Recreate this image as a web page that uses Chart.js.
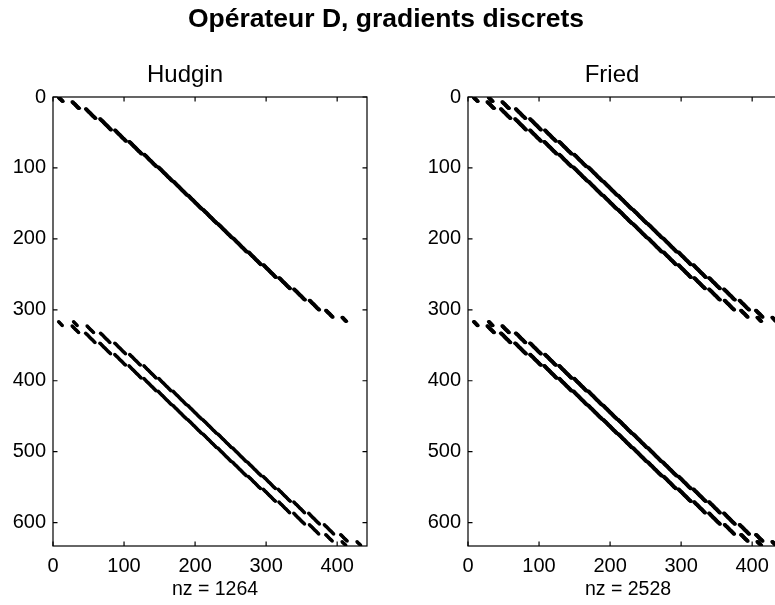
<!DOCTYPE html>
<html>
<head>
<meta charset="utf-8">
<script src="https://cdn.jsdelivr.net/npm/chart.js@4"></script>
<style>
  html, body { margin: 0; padding: 0; width: 775px; height: 605px; overflow: hidden; background: #fff; }
  canvas { position: absolute; left: 0; top: 0; }
</style>
</head>
<body>
<canvas id="hudgin" width="800" height="605"></canvas>
<canvas id="fried" width="800" height="605"></canvas>
<script>
// Valid subapertures per pupil row (circular pupil on a 20 x 20 lenslet grid)
const subapRowCounts = [6, 10, 14, 16, 16, 18, 18, 20, 20, 20, 20, 20, 20, 18, 18, 16, 16, 14, 10, 6];
// Phase points per side of the square phase grid (21 x 21 = 441 unknowns)
const gridSize = 21;
// Axis limits of the spy plots (matrix size + 1)
const colLimit = 442;
const rowLimit = 633;
const xTickValues = [0, 100, 200, 300, 400];
const yTickValues = [0, 100, 200, 300, 400, 500, 600];
const figureTitle = 'Opérateur D, gradients discrets';
const panelTitles = ['Hudgin', 'Fried'];

const slopesPerAxis = subapRowCounts.reduce((s, n) => s + n, 0);

// Non-zero entries of one block of D: one matrix row per valid subaperture,
// the stencil lists the phase-point column offsets used by that slope.
function stencilBlock(stencil, rowOffset) {
  const pts = [];
  let row = rowOffset;
  subapRowCounts.forEach((count, r) => {
    const first = (gridSize - 1 - count) / 2;
    for (let c = first; c < first + count; c++) {
      row++;
      const k = r * gridSize + c + 1;
      stencil.forEach(off => pts.push({ x: k + off, y: row }));
    }
  });
  return pts;
}

// Hudgin: x-slope uses two horizontal neighbours, y-slope two vertical neighbours
const hudginNz = stencilBlock([0, 1], 0).concat(stencilBlock([0, gridSize], slopesPerAxis));
// Fried: both slopes use the four corners of the subaperture
const friedStencil = [0, 1, gridSize, gridSize + 1];
const friedNz = stencilBlock(friedStencil, 0).concat(stencilBlock(friedStencil, slopesPerAxis));

const FONT = '"Liberation Sans", Arial, Helvetica, sans-serif';
Chart.defaults.font.family = FONT;

// Boxed axes with inward tick marks on all four sides, plus figure texts
const spyFrame = {
  id: 'spyFrame',
  afterDraw(chart, args, opts) {
    const { ctx, chartArea: a } = chart;
    const xs = chart.scales.x, ys = chart.scales.y;
    const tl = 4.5;
    ctx.save();
    ctx.strokeStyle = '#000';
    ctx.lineWidth = 1.2;
    ctx.strokeRect(a.left, a.top, a.right - a.left, a.bottom - a.top);
    ctx.beginPath();
    xTickValues.forEach(v => {
      const px = xs.getPixelForValue(v);
      ctx.moveTo(px, a.bottom); ctx.lineTo(px, a.bottom - tl);
      ctx.moveTo(px, a.top); ctx.lineTo(px, a.top + tl);
    });
    yTickValues.forEach(v => {
      const py = ys.getPixelForValue(v);
      ctx.moveTo(a.left, py); ctx.lineTo(a.left + tl, py);
      ctx.moveTo(a.right, py); ctx.lineTo(a.right - tl, py);
    });
    ctx.stroke();
    ctx.fillStyle = '#000';
    ctx.textAlign = 'center';
    ctx.textBaseline = 'middle';
    (opts.texts || []).forEach(t => {
      ctx.font = (t.bold ? 'bold ' : '') + t.size + 'px ' + FONT;
      ctx.fillText(t.text, t.x, t.y);
    });
    ctx.restore();
  }
};

function makeSpy(id, points, padLeft, padRight, texts) {
  return new Chart(document.getElementById(id), {
    type: 'scatter',
    data: {
      datasets: [{
        data: points,
        pointRadius: 1.75,
        pointHoverRadius: 0,
        pointStyle: 'circle',
        backgroundColor: '#000',
        borderWidth: 0
      }]
    },
    options: {
      responsive: false,
      animation: false,
      events: [],
      layout: { padding: { left: padLeft, right: padRight, top: 97, bottom: 0 } },
      plugins: {
        legend: { display: false },
        tooltip: { enabled: false },
        spyFrame: { texts }
      },
      scales: {
        x: {
          type: 'linear', min: 0, max: colLimit,
          grid: { display: false, drawTicks: false },
          border: { display: false },
          afterBuildTicks: s => { s.ticks = xTickValues.map(v => ({ value: v })); },
          afterFit: s => { s.height = 59; },
          ticks: { padding: 8, color: '#000', font: { size: 20 }, maxRotation: 0, autoSkip: false }
        },
        y: {
          type: 'linear', min: 0, max: rowLimit, reverse: true,
          grid: { display: false, drawTicks: false },
          border: { display: false },
          afterBuildTicks: s => { s.ticks = yTickValues.map(v => ({ value: v })); },
          afterFit: s => { s.width = 53; },
          ticks: { padding: 7, color: '#000', font: { size: 20 }, autoSkip: false }
        }
      }
    },
    plugins: [spyFrame]
  });
}

makeSpy('hudgin', hudginNz, 0, 433, [
  { text: figureTitle, x: 386, y: 20, size: 26.5, bold: true },
  { text: panelTitles[0], x: 185, y: 75, size: 24 },
  { text: 'nz = ' + hudginNz.length, x: 215, y: 590, size: 19.5 }
]);
makeSpy('fried', friedNz, 415, 18, [
  { text: panelTitles[1], x: 612, y: 75, size: 24 },
  { text: 'nz = ' + friedNz.length, x: 628, y: 590, size: 19.5 }
]);
</script>
</body>
</html>
